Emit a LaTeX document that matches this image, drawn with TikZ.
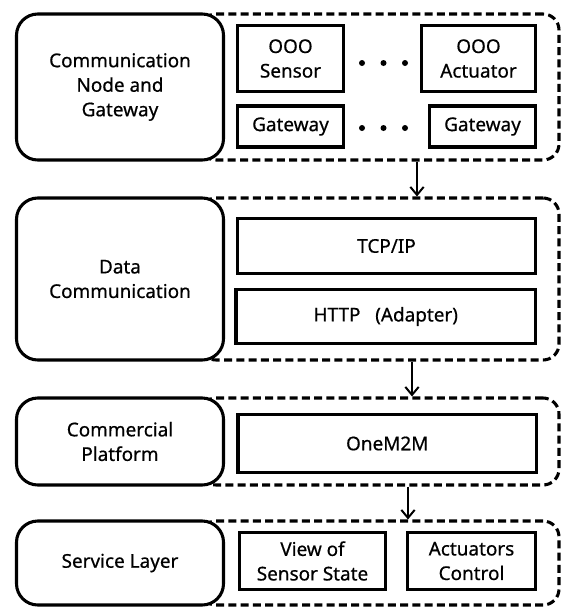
\documentclass[tikz,border=0pt]{standalone}
\usepackage{fontspec}
\setmainfont{Noto Sans}[FakeBold=0.6]
\usetikzlibrary{arrows.meta}
\def\px{0.75pt}
\tikzset{
  lbox/.style={draw, line width=2.3pt, rounded corners=16pt, fill=white, inner sep=0pt, align=center, font=\fontsize{14.2}{18.4}\selectfont},
  dbox/.style={draw, line width=2.3pt, dash pattern=on 6pt off 3.2pt, rounded corners=12pt, inner sep=0pt},
  ibox/.style={draw, line width=2.3pt, fill=white, inner sep=0pt, align=center, font=\fontsize{14.2}{18.4}\selectfont},
  arr/.style={line width=1.5pt, -{Straight Barb[length=6pt,width=10pt]}},
  dotm/.style={circle, fill=black, inner sep=0pt, minimum size=4.5pt}
}
\begin{document}
\begin{tikzpicture}[x=0.75pt, y=-0.75pt]
\useasboundingbox (0,0) rectangle (563,607);
% dashed containers
\node[dbox, minimum width=359*\px, minimum height=146*\px] (d1) at (379.5,87) {};
\node[dbox, minimum width=359*\px, minimum height=162*\px] (d2) at (379.5,279) {};
\node[dbox, minimum width=359*\px, minimum height=87*\px] (d3) at (379.5,441.5) {};
\node[dbox, minimum width=359*\px, minimum height=84*\px] (d4) at (379.5,563) {};
% left labels
\node[lbox, minimum width=207*\px, minimum height=146*\px] (l1) at (120,87) {Communication\\Node and\\Gateway};
\node[lbox, minimum width=207*\px, minimum height=162*\px] (l2) at (120,279) {Data\\Communication};
\node[lbox, minimum width=207*\px, minimum height=87*\px] (l3) at (120,441.5) {Commercial\\Platform};
\node[lbox, minimum width=207*\px, minimum height=84*\px] (l4) at (120,563) {Service Layer};
% row 1
\node[ibox, minimum width=106*\px, minimum height=66*\px] (sen) at (290.5,58.5) {OOO\\Sensor};
\node[ibox, minimum width=114*\px, minimum height=66*\px] (act) at (478.5,58.5) {OOO\\Actuator};
\node[ibox, minimum width=106*\px, minimum height=41*\px] (gw1) at (290.5,126.5) {Gateway};
\node[ibox, minimum width=106*\px, minimum height=41*\px] (gw2) at (482.5,126.5) {Gateway};
\node[dotm] (p1) at (362,63) {};
\node[dotm] (p2) at (383.5,63) {};
\node[dotm] (p3) at (405,63) {};
\node[dotm] (q1) at (362,128) {};
\node[dotm] (q2) at (383.5,128) {};
\node[dotm] (q3) at (405,128) {};
% row 2
\node[ibox, minimum width=298*\px, minimum height=55*\px] (tcp) at (386.5,246) {TCP/IP};
\node[ibox, minimum width=299.5*\px, minimum height=54*\px] (http) at (385.75,316.5) {HTTP\ \ \ (Adapter)};
% row 3
\node[ibox, minimum width=298.5*\px, minimum height=58*\px] (m2m) at (387.25,443.5) {OneM2M};
% row 4
\node[ibox, minimum width=146*\px, minimum height=57*\px] (view) at (312.5,561) {View of\\Sensor State};
\node[ibox, minimum width=128*\px, minimum height=57*\px] (actc) at (471.5,561) {Actuators\\Control};
% arrows
\coordinate (a1) at (417,0);
\coordinate (a2) at (412,0);
\coordinate (a3) at (408,0);
\draw[arr] (d1.south -| a1) -- (d2.north -| a1);
\draw[arr] (d2.south -| a2) -- (d3.north -| a2);
\draw[arr] (d3.south -| a3) -- (d4.north -| a3);
\end{tikzpicture}
\end{document}
